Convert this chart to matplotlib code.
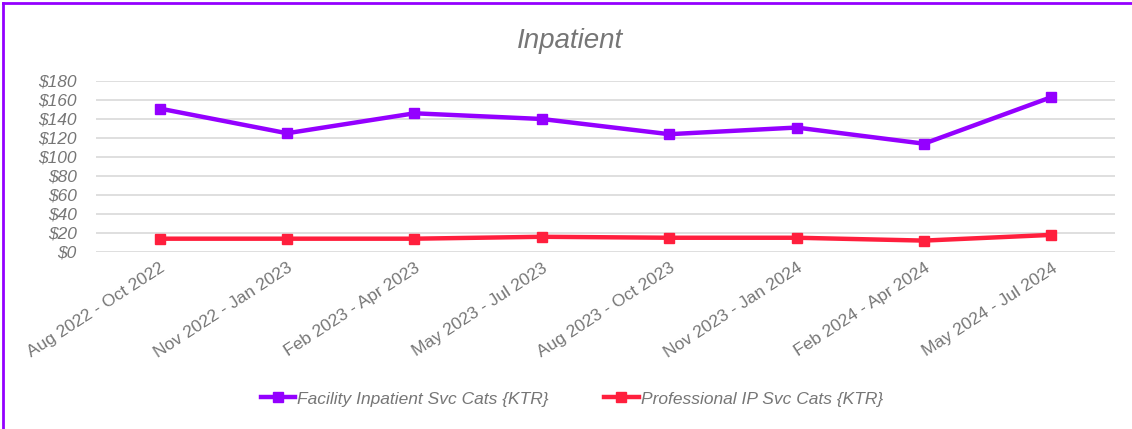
import matplotlib
matplotlib.use("Agg")
import matplotlib.pyplot as plt
from matplotlib.lines import Line2D
from matplotlib.ticker import FuncFormatter

plt.rcParams['font.family'] = ['Liberation Sans', 'DejaVu Sans']

# Data
periods = ["Aug 2022 - Oct 2022", "Nov 2022 - Jan 2023", "Feb 2023 - Apr 2023",
           "May 2023 - Jul 2023", "Aug 2023 - Oct 2023", "Nov 2023 - Jan 2024",
           "Feb 2024 - Apr 2024", "May 2024 - Jul 2024"]
facility = [151, 125, 146, 140, 124, 131, 114, 163]
professional = [14, 14, 14, 16, 15, 15, 12, 18]

purple = "#9400FF"
red = "#FF1F3D"
grey = "#767676"

fig = plt.figure(figsize=(11.32, 4.29), dpi=100)
ax = fig.add_axes([0.0848, 0.4126, 0.9002, 0.3986])

x = list(range(len(periods)))
ax.plot(x, facility, color=purple, lw=3.2, marker='s', ms=7.5,
        label="Facility Inpatient Svc Cats {KTR}")
ax.plot(x, professional, color=red, lw=3.2, marker='s', ms=7.5,
        label="Professional IP Svc Cats {KTR}")

ax.set_xlim(-0.5, len(periods) - 0.5)
ax.set_ylim(0, 180)
ax.set_yticks(range(0, 181, 20))
ax.yaxis.set_major_formatter(FuncFormatter(lambda v, p: f"${v:.0f}"))
ax.grid(axis='y', color="#d9d9d9", lw=1.2)
ax.set_axisbelow(True)
for s in ax.spines.values():
    s.set_visible(False)
ax.tick_params(length=0)
ax.tick_params(axis='y', colors=grey, labelsize=12.5, pad=14)
for t in ax.get_yticklabels():
    t.set_fontstyle('italic')
ax.set_xticks(x)
ax.set_xticklabels(periods, rotation=33, ha='right', rotation_mode='anchor',
                   color=grey, fontsize=12.5)
ax.tick_params(axis='x', pad=6)

fig.text(0.504, 0.905, "Inpatient", ha='center', va='center', fontsize=20,
         style='italic', color=grey)

leg = fig.legend(loc='center', bbox_to_anchor=(0.505, 0.07), ncol=2,
                 frameon=False, fontsize=12.5, handlelength=2.0,
                 handletextpad=0.1, columnspacing=3.2)
for t in leg.get_texts():
    t.set_color(grey)
    t.set_fontstyle('italic')

# purple frame lines (left and top)
fig.add_artist(Line2D([0.003, 0.003], [0, 0.993], transform=fig.transFigure,
                      color=purple, lw=2))
fig.add_artist(Line2D([0.003, 1], [0.993, 0.993], transform=fig.transFigure,
                      color=purple, lw=2))

fig.savefig("out.png", dpi=100)
